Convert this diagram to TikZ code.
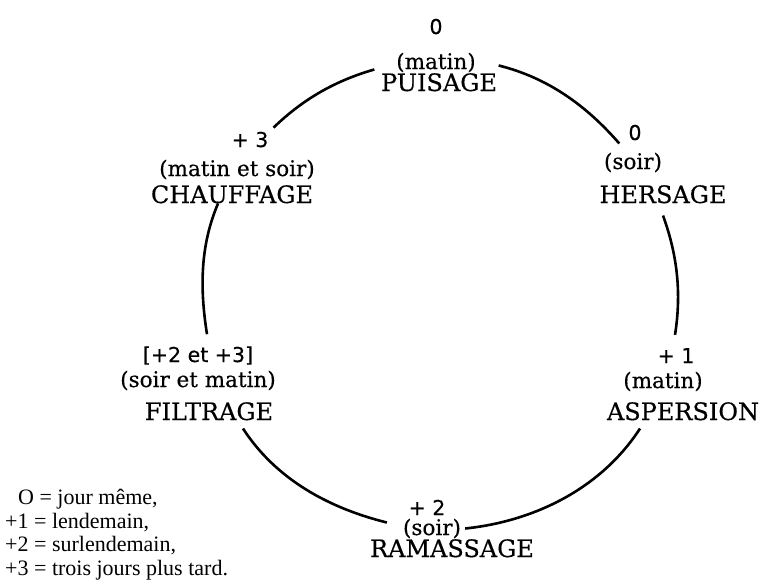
\documentclass[tikz,border=0pt]{standalone}
\usepackage{fontspec}
\setmainfont{DejaVu Serif}[FakeBold=0.4]
\newfontfamily\daysfont{DejaVu Sans}[FakeBold=0.4]
\newfontfamily\legfont{Liberation Serif}
\usepackage{tikz}
\tikzset{stage/.style={inner sep=0pt,anchor=base,font=\fontsize{24}{26}\selectfont},
  when/.style={inner sep=0pt,anchor=base,font=\fontsize{21.5}{24}\selectfont},
  day/.style={inner sep=0pt,anchor=base,font=\daysfont\fontsize{20.5}{22}\selectfont},
  legend/.style={inner sep=0pt,anchor=base west,font=\legfont\fontsize{22}{24}\selectfont},
  cyc/.style={line width=2.6pt,looseness=0.9}}

\begin{document}
\begin{tikzpicture}[x=1pt,y=1pt]
\useasboundingbox (0,0) rectangle (760,-581);
% puisage
\node[day](p0) at (436,-34) {0};
\node[when](pt) at (436,-69) {(matin)};
\node[stage](pn) at (439,-91) {PUISAGE};
% hersage
\node[day](h0) at (635,-140) {0};
\node[when](ht) at (633,-169) {(soir)};
\node[stage](hn) at (663,-203) {HERSAGE};
% aspersion
\node[day](a1) at (676,-363) {+ 1};
\node[when](at) at (663,-388) {(matin)};
\node[stage](an) at (683,-420) {ASPERSION};
% ramassage
\node[day](r2) at (427,-515) {+ 2};
\node[when](rt) at (432,-535) {(soir)};
\node[stage](rn) at (452,-557) {RAMASSAGE};
% filtrage
\node[day](f23) at (198,-362) {[+2 et +3]};
\node[when](ft) at (198,-387) {(soir et matin)};
\node[stage](fn) at (209,-420) {FILTRAGE};
% chauffage
\node[day](c3) at (250,-147) {+ 3};
\node[when](ct) at (237,-176) {(matin et soir)};
\node[stage](cn) at (232,-203) {CHAUFFAGE};
% cycle
\draw[cyc] ([xshift=1.5pt,yshift=7.5pt]pn.north east) to[out=-14,in=131] ([xshift=-9pt,yshift=-3pt]h0.south west);
\draw[cyc] ([yshift=-12pt]hn.south) to[out=-70,in=81] ([xshift=-1pt,yshift=13pt]a1.north);
\draw[cyc] ([xshift=-43pt,yshift=-8pt]an.south) to[out=-123,in=6] ([xshift=4pt]rt.east);
\draw[cyc] ([xshift=-16pt,yshift=6pt]rt.west) to[out=166,in=-57] ([xshift=34pt,yshift=-8pt]fn.south);
\draw[cyc] ([xshift=9pt,yshift=12pt]f23.north) to[out=99,in=-113] ([xshift=-14pt]cn.south);
\draw[cyc] ([xshift=5pt,yshift=4pt]c3.north east) to[out=44,in=-164] ([xshift=-6.5pt,yshift=3.5pt]pn.north west);
% legende
\node[legend](l0) at (18,-504) {O = jour même,};
\node[legend](l1) at (5,-528) {+1 = lendemain,};
\node[legend](l2) at (5,-551) {+2 = surlendemain,};
\node[legend](l3) at (5,-575) {+3 = trois jours plus tard.};
\end{tikzpicture}
\end{document}
